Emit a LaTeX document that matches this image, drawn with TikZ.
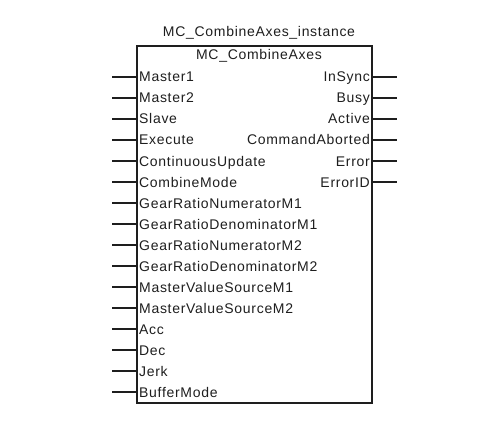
\documentclass[tikz,border=0pt]{standalone}
\usepackage{fontspec}
\setmainfont{Liberation Sans}[LetterSpace=5]
\usetikzlibrary{positioning}
\definecolor{ink}{HTML}{1E1E1E}
\tikzset{
  fblock/.style={draw=ink, line width=1.2pt, minimum width=235pt,
    minimum height=357pt, inner sep=0pt},
  pinlbl/.style={font=\fontsize{14}{15}\selectfont, text=ink, inner sep=0pt},
  pinln/.style={draw=ink, line width=1.3pt},
}

\begin{document}
\begin{tikzpicture}[x=1pt,y=-1pt]
  \useasboundingbox (0,0) rectangle (497,422);
  % function block
  \node[fblock] (fb) at (254.5,224.5) {};
  \node[pinlbl, anchor=base] (inst) at (259,37) {MC\_CombineAxes\_instance};
  \node[pinlbl, anchor=base] (type) at (259,60) {MC\_CombineAxes};
  % inputs
  \foreach \lbl [count=\i] in {Master1,Master2,Slave,Execute,ContinuousUpdate,
      CombineMode,GearRatioNumeratorM1,GearRatioDenominatorM1,
      GearRatioNumeratorM2,GearRatioDenominatorM2,MasterValueSourceM1,
      MasterValueSourceM2,Acc,Dec,Jerk,BufferMode}{
    \node[pinlbl, anchor=base west] (in\i) at (139,61+21*\i) {\lbl};
    \coordinate (inp\i) at (112,56+21*\i);
    \draw[pinln] (inp\i) -- (inp\i -| fb.west);
  }
  % outputs
  \foreach \lbl [count=\i] in {InSync,Busy,Active,CommandAborted,Error,ErrorID}{
    \node[pinlbl, anchor=base east] (out\i) at (370,61+21*\i) {\lbl};
    \coordinate (outp\i) at (397,56+21*\i);
    \draw[pinln] (outp\i -| fb.east) -- (outp\i);
  }
\end{tikzpicture}
\end{document}
